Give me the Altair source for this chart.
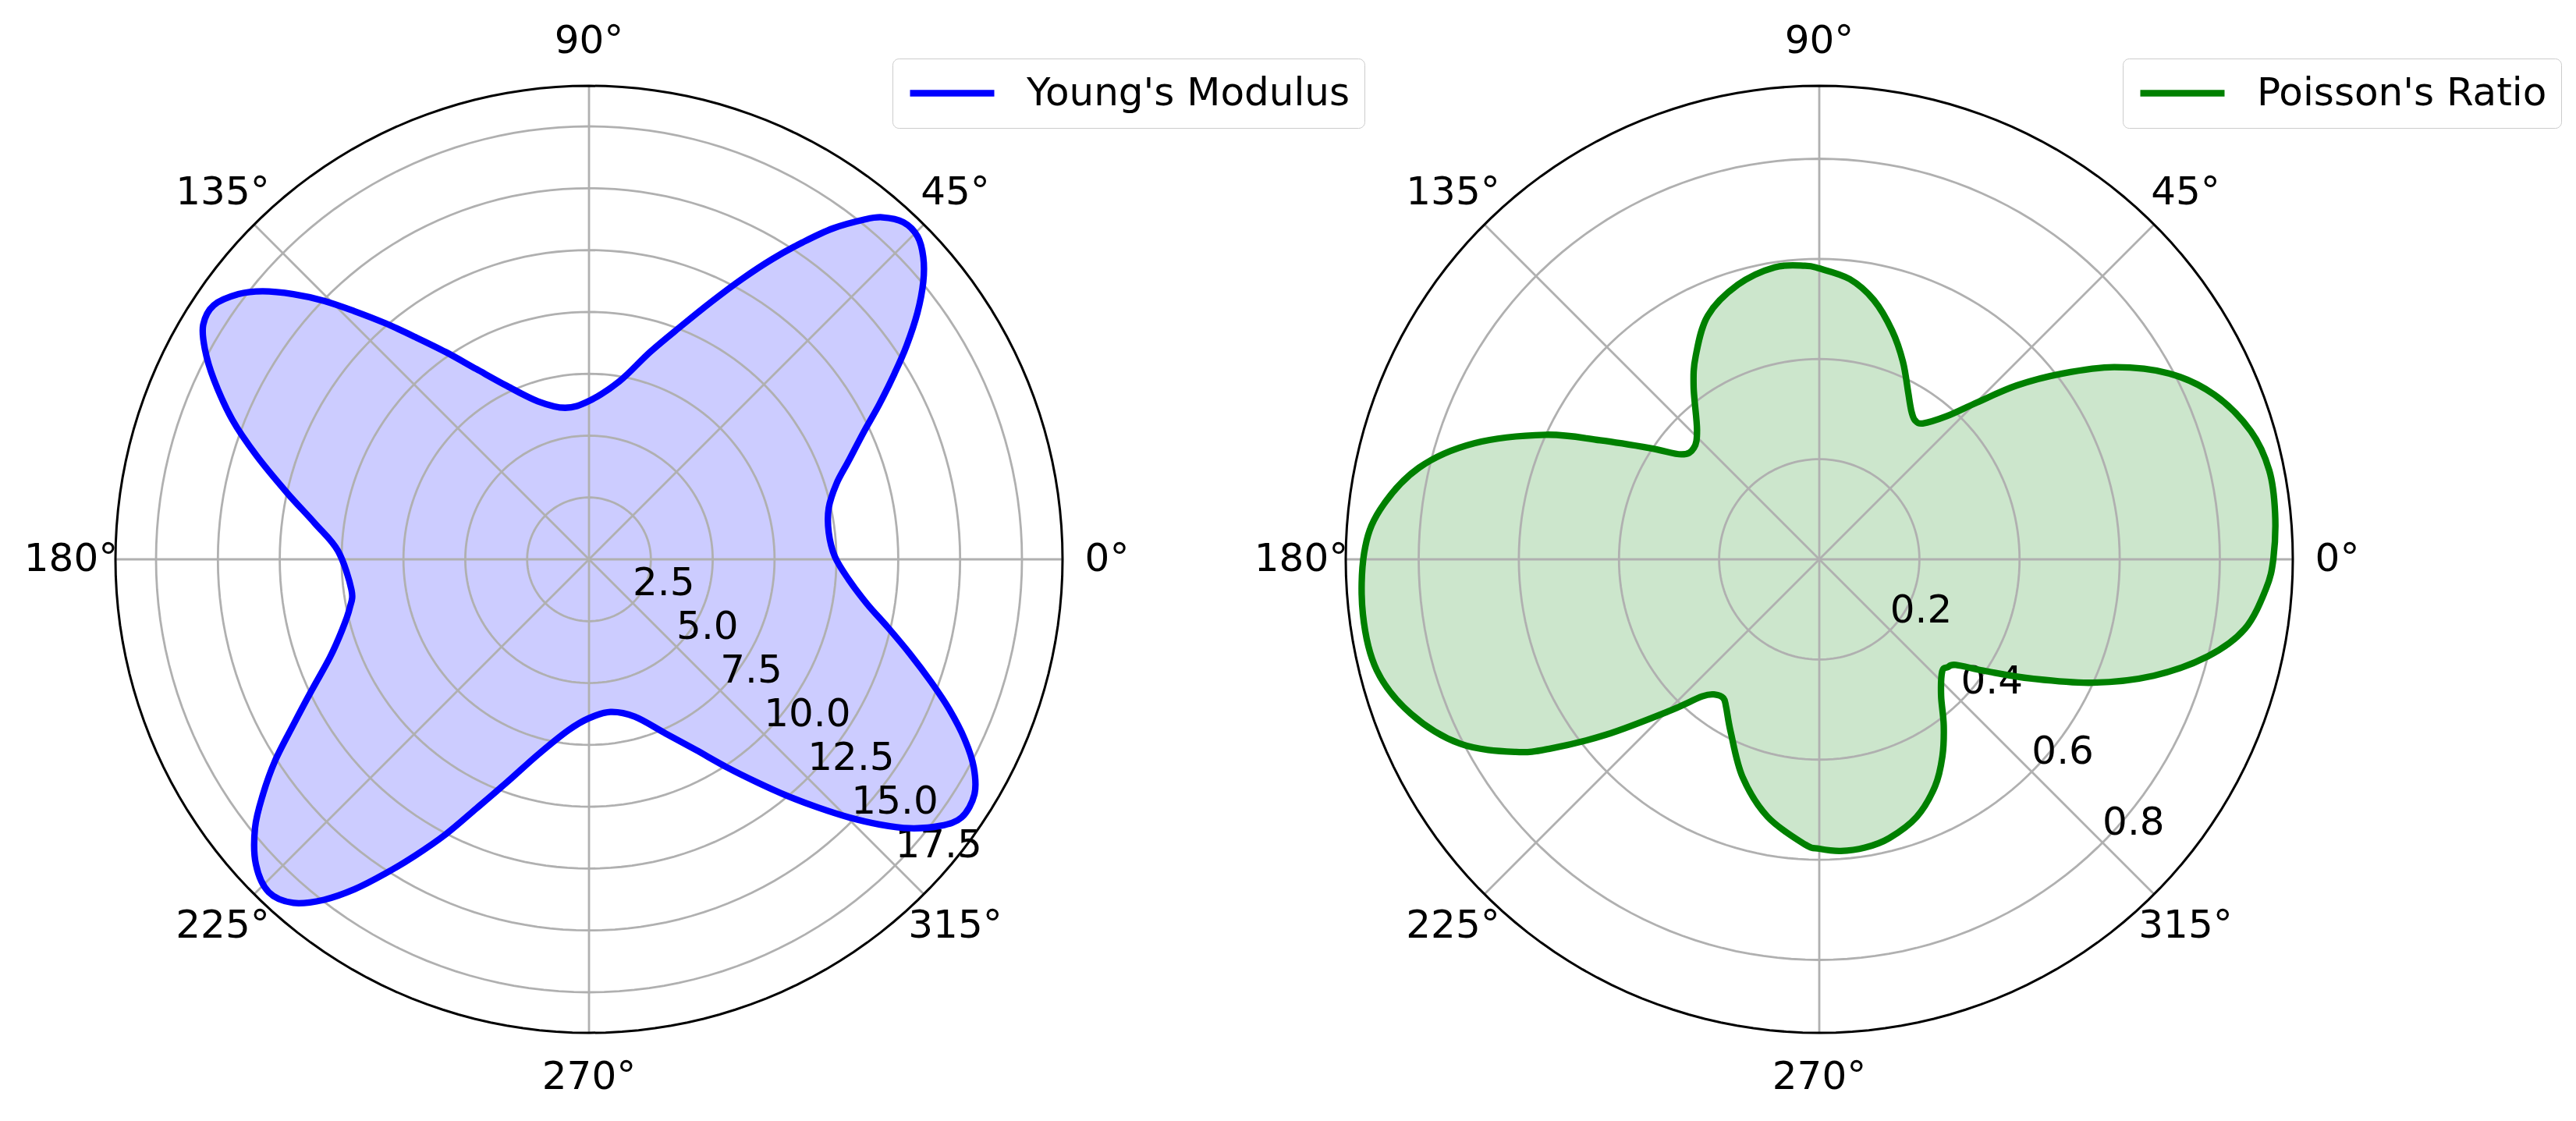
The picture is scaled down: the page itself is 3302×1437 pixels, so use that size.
import numpy as np
import pandas as pd
import altair as alt

# values: angle in degrees, radius in data units
young_angle = [0.6, 6.4, 12.1, 17.0, 20.8, 24.9, 28.1, 31.3, 33.9, 36.9, 39.7, 42.1, 44.5,
               47.0, 49.4, 51.0, 53.6, 56.0, 58.6, 61.4, 64.6, 68.5, 73.6, 80.3, 90,
               98.9, 108, 115.3, 120.6, 124.6, 128, 130.8, 133.4, 135.7, 138.1, 140.6,
               142.9, 145.9, 148.7, 151.3, 154.4, 158.6, 162.7, 167.6, 172.5, 178.1,
               187.3, 191.5, 195.9, 200.7, 205.3, 209.2, 212.7, 215.8, 218.8, 222.5,
               226.1, 229.3, 232.1, 234.6, 237, 239.6, 242.5, 245.7, 249.8, 255.3, 263.1,
               270, 278, 286.2, 293.7, 299.3, 303.5, 307, 310, 312.7, 315.2, 317.6, 320,
               322.8, 325.3, 328.6, 331.6, 334.4, 337.4, 340.3, 343.6, 347.1, 350.9, 355.6]
young_r = [9.94, 9.75, 9.91, 10.46, 11.23, 12.25, 13.3, 14.45, 15.46, 16.6, 17.56, 18.21, 18.62,
           18.63, 18.21, 17.67, 16.62, 15.46, 14.22, 12.9, 11.52, 10.12, 8.73, 7.30, 6.4,
           6.2, 6.72, 7.75, 8.93, 10.17, 11.4, 12.61, 13.81, 14.96, 16.05, 17.07,
           17.77, 18.32, 18.25, 17.7, 16.81, 15.49, 14.07, 12.49, 11.18, 10.15,
           9.68, 9.87, 10.37, 11.19, 12.4, 13.68, 15.08, 16.25, 17.32, 18.26,
           18.67, 18.32, 17.44, 16.36, 15.16, 13.88, 12.52, 11.04, 9.6, 8.17, 6.96,
           6.42, 6.23, 6.62, 7.68, 8.84, 10.07, 11.28, 12.49, 13.65, 14.8, 15.89, 16.91,
           17.82, 18.32, 18.25, 17.68, 16.84, 15.77, 14.68, 13.52, 12.41, 11.38, 10.52]

poisson_angle = [0.15, 5.8, 11.2, 16.55, 22.6, 28.0, 33.1, 37.4, 41.35, 44.8, 48.3, 52.75,
                 55.4, 57.7, 59.8, 62.1, 67.1, 72.3, 78.1, 83.8, 90, 92.8, 98.7, 106.5,
                 114.6, 121.3, 126, 133.3, 138.4, 142.7, 146.6, 151.5, 155.5, 161.4, 167.1,
                 173.6, 179.2, 186.9, 194.1, 200.7, 207.2, 212.4, 215.2, 219.5, 225.2, 229.5,
                 232.4, 235.4, 237.8, 242.9, 250.6, 258.6, 267.1, 270, 274.2, 279, 284.1,
                 290.7, 297, 302, 306.8, 311.8, 317.7, 320, 322.3, 326.2, 330.7, 335.7,
                 340.8, 346, 350.7, 356.2]
poisson_r = [0.907, 0.915, 0.916, 0.899, 0.855, 0.791, 0.703, 0.611, 0.526, 0.445, 0.383, 0.341,
             0.337, 0.346, 0.360, 0.379, 0.429, 0.479, 0.529, 0.563, 0.581, 0.587, 0.590, 0.572,
             0.535, 0.475, 0.427, 0.356, 0.335, 0.346, 0.403, 0.498, 0.600, 0.727, 0.820,
             0.883, 0.909, 0.918, 0.911, 0.872, 0.806, 0.718, 0.655, 0.550, 0.428, 0.360,
             0.341, 0.337, 0.349, 0.388, 0.461, 0.524, 0.570, 0.578, 0.584, 0.583, 0.574,
             0.550, 0.509, 0.464, 0.415, 0.365, 0.332, 0.335, 0.345, 0.402, 0.487, 0.599,
             0.707, 0.800, 0.861, 0.894]

theta_ticks = [0, 45, 90, 135, 180, 225, 270, 315]
young_rings = [2.5, 5.0, 7.5, 10.0, 12.5, 15.0, 17.5]
poisson_rings = [0.2, 0.4, 0.6, 0.8]
young_rmax = 19.14
poisson_rmax = 0.9457

FONT = 'DejaVu Sans'
R_PX = 607      # outer circle radius in pixels
H = 1419
CY = 709        # circle centre, from top of the view
GRID = '#b0b0b0'
to_xy = dict(x='datum.r * cos(datum.angle * PI / 180)',
             y='datum.r * sin(datum.angle * PI / 180)')


def circles(values):
    # grid circles, traced every 2 degrees
    steps = np.arange(0, 362, 2)
    return pd.DataFrame([(v, a) for v in values for a in steps], columns=['r', 'angle'])


def polar_panel(angle, r, rings, labels, rmax, name, color, width, cx, legend_x):
    k = R_PX / rmax
    xs = alt.Scale(domain=[-cx / k, (width - cx) / k], nice=False, zero=False)
    ys = alt.Scale(domain=[-(H - CY) / k, CY / k], nice=False, zero=False)
    X = alt.X('x:Q', scale=xs, axis=None)
    Y = alt.Y('y:Q', scale=ys, axis=None)

    curve = pd.DataFrame({'angle': angle, 'r': r, 'i': range(len(r)), 'series': name})
    base = alt.Chart(curve).transform_calculate(**to_xy)

    fill = base.mark_line(interpolate='cardinal-closed', fill=color, fillOpacity=0.2,
                          strokeOpacity=0).encode(x=X, y=Y, order='i:Q')

    outline = base.mark_line(interpolate='cardinal-closed', strokeWidth=8.3).encode(
        x=X, y=Y, order='i:Q',
        color=alt.Color('series:N', scale=alt.Scale(domain=[name], range=[color]),
                        legend=alt.Legend(title=None, orient='none', legendX=legend_x, legendY=67,
                                          symbolType='stroke', symbolSize=11664,
                                          symbolStrokeWidth=8.3, labelFont=FONT,
                                          labelFontSize=50, labelOffset=37, labelLimit=1000,
                                          padding=18, clipHeight=53, strokeColor='#cccccc',
                                          fillColor='white', cornerRadius=8,
                                          labelColor='black')))

    ring_layer = alt.Chart(circles(rings)).transform_calculate(**to_xy).mark_line(
        stroke=GRID, strokeWidth=2.8).encode(x=X, y=Y, detail='r:N', order='angle:Q')

    spine = alt.Chart(circles([rmax])).transform_calculate(**to_xy).mark_line(
        stroke='black', strokeWidth=3).encode(x=X, y=Y, order='angle:Q')

    spokes = alt.Chart(pd.DataFrame({'angle': theta_ticks})).transform_calculate(
        x='0', y='0',
        x2=f'{rmax} * cos(datum.angle * PI / 180)',
        y2=f'{rmax} * sin(datum.angle * PI / 180)'
    ).mark_rule(stroke=GRID, strokeWidth=2.8).encode(x=X, y=Y, x2='x2:Q', y2='y2:Q')

    # angle labels sit 57 px outside the circle
    theta_df = pd.DataFrame({'angle': theta_ticks, 'label': [f'{a}°' for a in theta_ticks],
                             'r': rmax * (R_PX + 57) / R_PX})
    theta_text = alt.Chart(theta_df).transform_calculate(**to_xy).mark_text(
        font=FONT, fontSize=50, align='center', baseline='middle', color='black'
    ).encode(x=X, y=Y, text='label:N')

    rlab_df = pd.DataFrame({'r': rings, 'label': labels, 'angle': -45})
    r_text = alt.Chart(rlab_df).transform_calculate(**to_xy).mark_text(
        font=FONT, fontSize=50, align='left', baseline='middle', dy=-25, color='black'
    ).encode(x=X, y=Y, text='label:N')

    return alt.layer(fill, ring_layer, spokes, r_text, theta_text, spine, outline).properties(
        width=width, height=H)


left = polar_panel(young_angle, young_r, young_rings,
                   ['2.5', '5.0', '7.5', '10.0', '12.5', '15.0', '17.5'],
                   young_rmax, "Young's Modulus", 'blue', 1494, 747, 1136)
right = polar_panel(poisson_angle, poisson_r, poisson_rings,
                    ['0.2', '0.4', '0.6', '0.8'],
                    poisson_rmax, "Poisson's Ratio", 'green', 1792, 830, 1219)

chart = alt.hconcat(left, right, spacing=0, bounds='flush', padding=0).resolve_scale(
    color='independent', x='independent', y='independent'
).resolve_legend(color='independent').configure_view(strokeWidth=0)

chart.save('out.html', embed_options={'renderer': 'svg', 'actions': False})
